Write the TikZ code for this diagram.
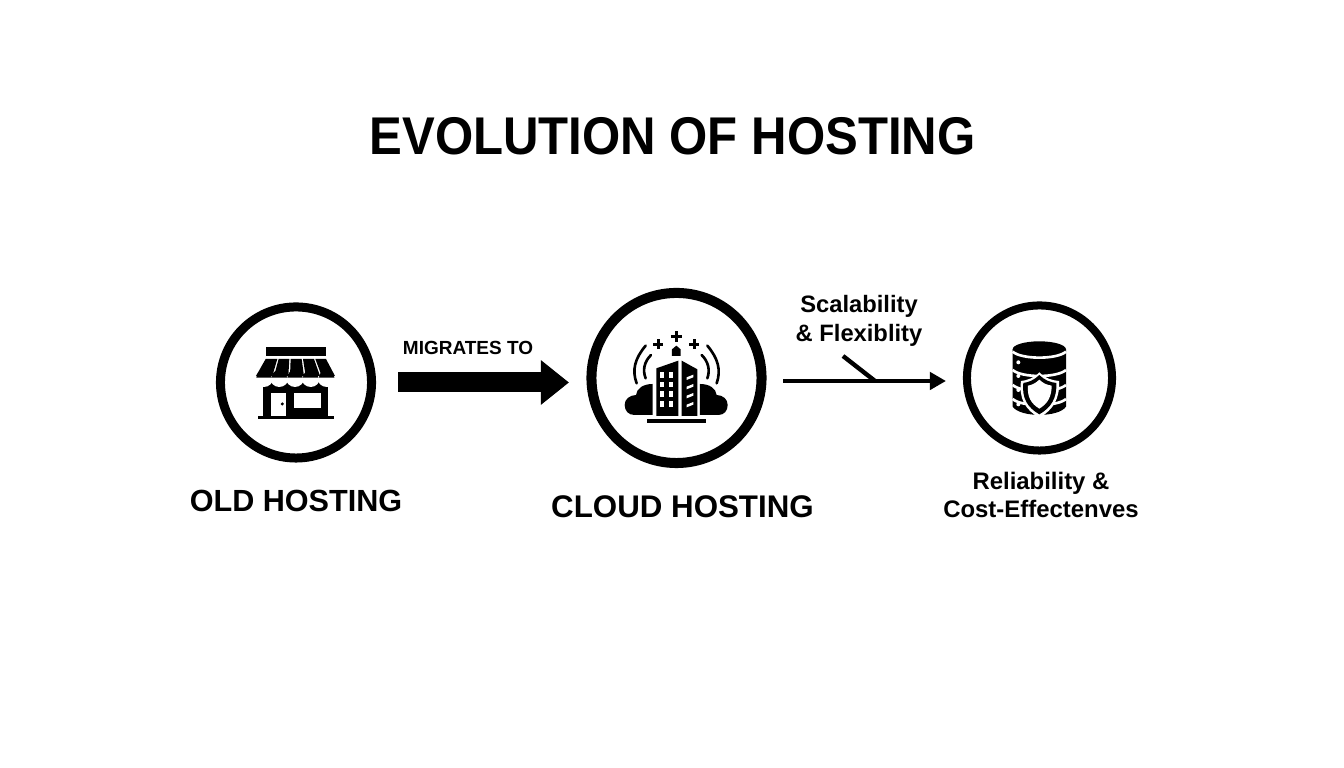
\documentclass[tikz,border=0pt]{standalone}
\usepackage{fontspec}
\setmainfont{Liberation Sans}
\newfontfamily\titlefont[FakeStretch=0.925]{Liberation Sans}
\usetikzlibrary{arrows.meta}
\tikzset{
  ring/.style={circle,draw=black,inner sep=0pt},
  headline/.style={font=\bfseries\fontsize{#1}{#1}\selectfont,align=center,text=black},
  wave/.style={draw=black,line width=0.75pt,line cap=round},
  plus/.style={draw=black,line width=0.7pt},
  bigarrow/.style={draw=black,line width=5.69pt,-{Triangle[length=8pt,width=12.2pt]}},
  thinarrow/.style={draw=black,line width=1.25pt,-{Triangle[length=4.6pt,width=4.9pt]}},
}
\begin{document}
\begin{tikzpicture}[x=0.01cm,y=-0.01cm]
\useasboundingbox (0,0) rectangle (1344,768);
% titles
\node[font=\titlefont\bfseries\fontsize{15.1}{15.1}\selectfont] (title) at (672.5,136) {EVOLUTION OF HOSTING};
% rings
\node[ring,line width=2.56pt,minimum size=1.51cm] (old) at (296,382.5) {};
\node[ring,line width=2.85pt,minimum size=1.70cm] (cloud) at (676.5,378) {};
\node[ring,line width=2.28pt,minimum size=1.45cm] (base) at (1039.5,378) {};
% labels
\node[headline=8.7] (oldlabel) at (296,501) {OLD HOSTING};
\node[headline=8.9] (cloudlabel) at (682.5,507) {CLOUD HOSTING};
\node[headline=5.4] (miglabel) at (468,348) {MIGRATES TO};
\node[headline=6.75] (flexlabel) at (859,321) {Scalability\\[1.5pt]\& Flexiblity};
\node[headline=6.8] (rellabel) at (1041,495) {Reliability \&\\[1.2pt]Cost-Effectenves};
% connectors
\coordinate (migstart) at (398,382.5);
\coordinate (migend) at (569,382.5);
\draw[bigarrow] (migstart) -- (migend);
\coordinate (flexstart) at (783,381);
\coordinate (flexend) at (946,381);
\coordinate (flextick) at (843,356);
\coordinate (flexjoin) at (875,381);
\draw[thinarrow] (flexstart) -- (flexend);
\draw[draw=black,line width=1.25pt] (flextick) -- (flexjoin);
% store
\begin{scope}[shift={(200,290)},scale=1/3]
  \fill (197,170) rectangle (378,197);
  \fill (190,276) rectangle (385,380);
  \foreach \x in {192,238,285,332,380}
    \fill[white] (\x,263) circle (28);
  \fill[white] (164,240) rectangle (410,263);
  \foreach \x in {192,238,285,332,380}
    \fill (\x-23,263) -- (\x+23,263) arc (0:-180:23 and 23) -- cycle;
  \fill[white] (212,308) rectangle (258,380);
  \fill (247,342) circle (5);
  \fill[white] (283,308) rectangle (362,353);
  \fill (174,378) rectangle (402,388);
  \foreach \a/\b/\c/\d in {197/232/168/217,236/268/222/265,272/305/270/312,309/342/317/360,346/378/365/405}
    \fill (\a,207) -- (\b,207) -- (\d,258) -- (\c,258) -- cycle;
\end{scope}
% building
\begin{scope}[shift={(580,280)},scale=1/3]
  \foreach \x/\y/\r in {289/170/16,235/193/15,343/193/15} {
    \draw[plus] (\x-\r,\y) -- (\x+\r,\y);
    \draw[plus] (\x,\y-\r) -- (\x,\y+\r);
  }
  \fill (276,228) -- (276,208) -- (289,197) -- (302,208) -- (302,228) -- cycle;
  \fill (229,265) -- (295,242) -- (295,408) -- (229,408) -- cycle;
  \fill (305,242) -- (352,268) -- (352,408) -- (305,408) -- cycle;
  \foreach \y in {277,305,333,363} {
    \fill[white] (240,\y) rectangle (253,\y+17);
    \fill[white] (267,\y) rectangle (280,\y+17);
  }
  \foreach \y in {290,318,345,372}
    \fill[white] (320,\y+2) -- (340,\y-6) -- (340,\y+2) -- (320,\y+10) -- cycle;
  \fill (218,405) -- (163,405) .. controls (145,405) and (134,392) .. (134,375) .. controls (134,358) and (148,346) .. (168,345) .. controls (170,325) and (190,312) .. (218,312) -- cycle;
  \fill (360,405) -- (415,405) .. controls (433,405) and (443,392) .. (443,375) .. controls (443,358) and (430,346) .. (410,345) .. controls (408,325) and (388,312) .. (360,312) -- cycle;
  \draw[wave] (197,197) .. controls (165,235) and (155,270) .. (170,310);
  \draw[wave] (213,225) .. controls (193,245) and (187,270) .. (197,295);
  \draw[wave] (382,197) .. controls (414,235) and (424,270) .. (410,310);
  \draw[wave] (365,225) .. controls (385,245) and (391,270) .. (382,295);
  \fill (200,417) rectangle (378,430);
\end{scope}
% database
\begin{scope}[shift={(955,295)},scale=1/3]
  \fill (173,163) -- (173,335) .. controls (195,368) and (311,368) .. (333,335) -- (333,163) -- cycle;
  \fill (253,163) ellipse (80 and 24);
  \foreach \y in {170,225,270,312}
    \draw[white,line width=0.75pt] (173,\y) .. controls (200,\y+24) and (306,\y+24) .. (333,\y);
  \foreach \y in {202,243,285,328}
    \fill[white] (190,\y) circle (6);
  \fill[white] (253,232) .. controls (270,250) and (290,256) .. (312,258) .. controls (315,310) and (295,345) .. (253,368) .. controls (211,345) and (191,310) .. (198,258) .. controls (216,256) and (236,250) .. (253,232) -- cycle;
  \fill (253,240) .. controls (268,255) and (285,262) .. (304,264) .. controls (306,310) and (288,338) .. (253,358) .. controls (218,338) and (200,310) .. (205,264) .. controls (221,262) and (238,255) .. (253,240) -- cycle;
  \fill[white] (253,254) .. controls (264,265) and (276,270) .. (290,272) .. controls (290,305) and (278,326) .. (253,341) .. controls (228,326) and (216,305) .. (219,272) .. controls (230,270) and (242,265) .. (253,254) -- cycle;
\end{scope}
\end{tikzpicture}
\end{document}
